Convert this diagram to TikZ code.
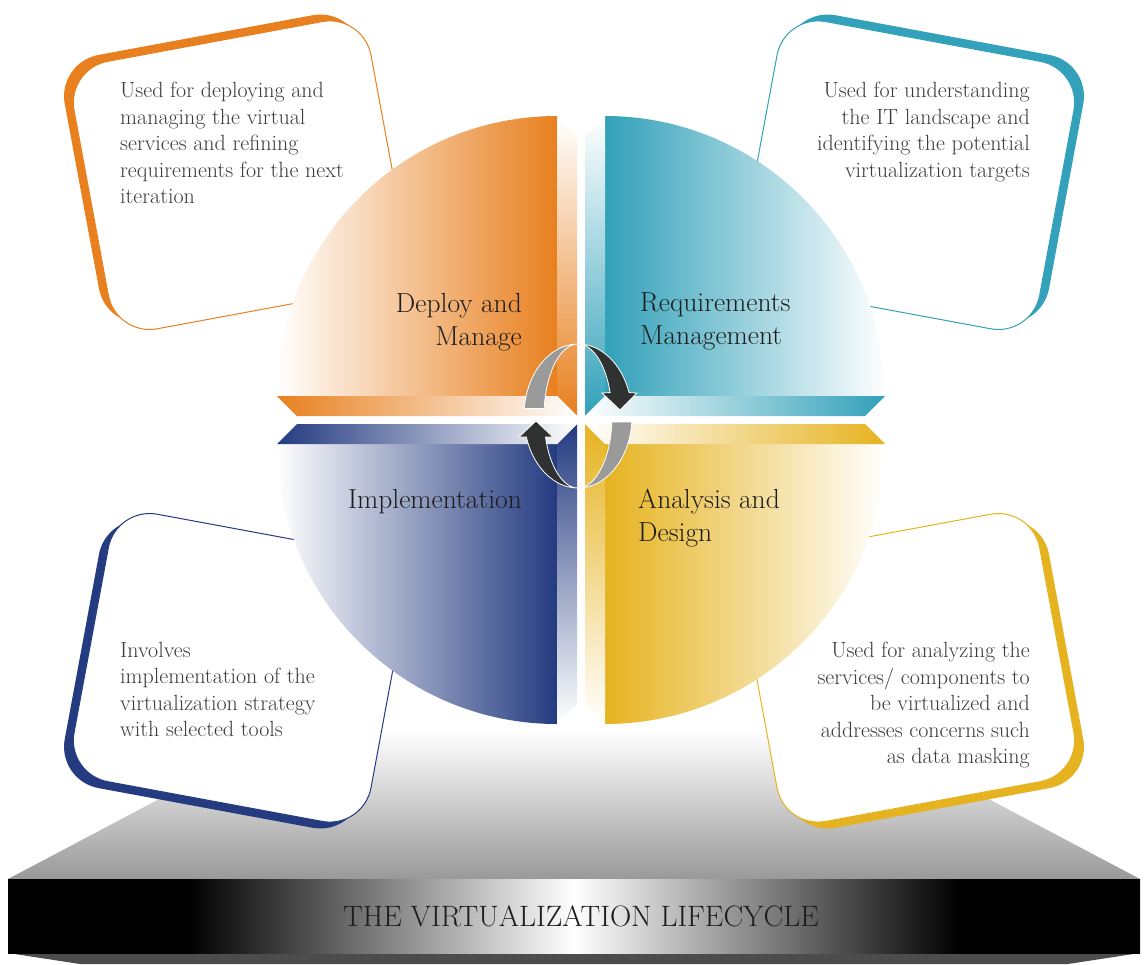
\documentclass[tikz,border=0pt]{standalone}
\usepackage{tikz}
\tikzset{>=latex}

\definecolor{deployorange}{HTML}{E8801F}
\definecolor{reqteal}{HTML}{32A1B9}
\definecolor{implblue}{HTML}{243B80}
\definecolor{designgold}{HTML}{E6B320}
\definecolor{ringgray}{HTML}{9A9A9A}
\definecolor{ringdark}{HTML}{303231}
\definecolor{cardtext}{HTML}{3C3C3C}
\definecolor{labelblack}{HTML}{1D1D1B}

\pgfdeclarehorizontalshading{bandshade}{100bp}{color(0bp)=(black); color(25bp)=(black);
  color(33bp)=(black); color(50bp)=(white); color(67bp)=(black); color(75bp)=(black);
  color(100bp)=(black)}

\tikzset{
  card text/.style={inner sep=0pt, text=cardtext, font=\fontsize{22}{26.5}\selectfont},
  phase label/.style={inner sep=0pt, text=labelblack, font=\fontsize{27.5}{33}\selectfont},
  title text/.style={inner sep=0pt, text=labelblack, font=\fontsize{29.5}{29.5}\selectfont},
  card line/.style={line width=1pt},
  ring edge/.style={draw=white, line width=0.8pt},
}

\begin{document}
\begin{tikzpicture}[x=1pt, y=-1pt]
  \useasboundingbox (0,0) rectangle (1148,964);

  % START: Platform --------------------------------
  \shade[top color=white, bottom color=black!40] (288,731) -- (860,731) -- (1140,879) -- (8,879) -- cycle;
  \shade[left color=black!70, middle color=white, right color=black!70] (8,953) -- (1140,953) -- (1068,964) -- (80,964) -- cycle;
  \shade[shading=bandshade] (8,879) rectangle (1140,953);
  \coordinate (band_c) at (581,916);
  \node[title text] (title) at (band_c) {THE VIRTUALIZATION LIFECYCLE};
  % END: Platform ----------------------------------

  % START: Cards -----------------------------------
  % Deploy card
  \begin{scope}[shift={(235,172)}, rotate=10.5]
    \fill[deployorange, rounded corners=42pt] (-155,-140) rectangle (147,132);
    \filldraw[fill=white, draw=deployorange, card line, rounded corners=42pt] (-147,-132) rectangle (155,140);
  \end{scope}
  % Requirements card
  \begin{scope}[shift={(913,172)}, rotate=-10.5]
    \fill[reqteal, rounded corners=42pt] (-147,-140) rectangle (155,132);
    \filldraw[fill=white, draw=reqteal, card line, rounded corners=42pt] (-155,-132) rectangle (147,140);
  \end{scope}
  % Implementation card
  \begin{scope}[shift={(235,671)}, rotate=-10.5]
    \fill[implblue, rounded corners=42pt] (-155,-132) rectangle (147,140);
    \filldraw[fill=white, draw=implblue, card line, rounded corners=42pt] (-147,-140) rectangle (155,132);
  \end{scope}
  % Design card
  \begin{scope}[shift={(913,671)}, rotate=10.5]
    \fill[designgold, rounded corners=42pt] (-147,-132) rectangle (155,140);
    \filldraw[fill=white, draw=designgold, card line, rounded corners=42pt] (-155,-140) rectangle (147,132);
  \end{scope}

  \node[card text, anchor=north west, align=left] (deploy_note) at (120,82)
    {Used for deploying and\\managing the virtual\\services and refining\\requirements for the next\\iteration};
  \node[card text, anchor=north east, align=right] (req_note) at (1030,82)
    {Used for understanding\\the IT landscape and\\identifying the potential\\virtualization targets};
  \node[card text, anchor=north west, align=left] (impl_note) at (120,642)
    {Involves\\implementation of the\\virtualization strategy\\with selected tools};
  \node[card text, anchor=north east, align=right] (design_note) at (1030,642)
    {Used for analyzing the\\services/ components to\\be virtualized and\\addresses concerns such\\as data masking};
  % END: Cards -------------------------------------

  % START: Quadrants -------------------------------
  % Deploy (top left)
  \shade[left color=white, right color=deployorange] (557,396) -- (277,396) arc[start angle=180, end angle=270, radius=280] -- cycle;
  \shade[top color=white, bottom color=deployorange] (557,116) -- (577,136) -- (577,416) -- (557,396) -- cycle;
  \shade[left color=deployorange, right color=white] (277,396) -- (557,396) -- (577,416) -- (297,416) -- cycle;
  % Requirements (top right)
  \shade[left color=reqteal, right color=white] (605,396) -- (605,116) arc[start angle=270, end angle=360, radius=280] -- cycle;
  \shade[top color=white, bottom color=reqteal] (605,116) -- (585,136) -- (585,416) -- (605,396) -- cycle;
  \shade[left color=white, right color=reqteal] (605,396) -- (885,396) -- (865,416) -- (585,416) -- cycle;
  % Implementation (bottom left)
  \shade[left color=white, right color=implblue] (557,444) -- (557,724) arc[start angle=90, end angle=180, radius=280] -- cycle;
  \shade[top color=implblue, bottom color=white] (557,444) -- (577,424) -- (577,704) -- (557,724) -- cycle;
  \shade[left color=implblue, right color=white] (297,424) -- (577,424) -- (557,444) -- (277,444) -- cycle;
  % Design (bottom right)
  \shade[left color=designgold, right color=white] (605,444) -- (885,444) arc[start angle=0, end angle=90, radius=280] -- cycle;
  \shade[top color=designgold, bottom color=white] (605,444) -- (585,424) -- (585,704) -- (605,724) -- cycle;
  \shade[left color=white, right color=designgold] (585,424) -- (865,424) -- (885,444) -- (605,444) -- cycle;

  \node[phase label, anchor=north east, align=right] (deploy) at (522,293) {Deploy and\\Manage};
  \node[phase label, anchor=north west, align=left] (req) at (640,293) {Requirements\\Management};
  \node[phase label, anchor=north east, align=right] (impl) at (522,489) {Implementation};
  \node[phase label, anchor=north west, align=left] (design) at (638,489) {Analysis and\\Design};
  % END: Quadrants ---------------------------------

  % START: Ring ------------------------------------
  \coordinate (ring) at (578,416);
  \begin{scope}[shift={(ring)}]
    % upper half
    \filldraw[fill=ringgray, ring edge] (186:54 and 72)
      arc[start angle=186, end angle=270, x radius=54, y radius=72]
      arc[start angle=270, end angle=186, x radius=34, y radius=72] -- cycle;
    \filldraw[fill=ringdark, ring edge] (270:54 and 72)
      arc[start angle=270, end angle=341, x radius=54, y radius=72]
      -- (59,-23) -- (42,-6) -- (24,-23) -- (341:34 and 72)
      arc[start angle=341, end angle=270, x radius=34, y radius=72] -- cycle;
    % lower half
    \filldraw[fill=ringgray, ring edge] (4.8:54 and 72)
      arc[start angle=4.8, end angle=90, x radius=54, y radius=72]
      arc[start angle=90, end angle=4.8, x radius=34, y radius=72] -- cycle;
    \filldraw[fill=ringdark, ring edge] (90:54 and 72)
      arc[start angle=90, end angle=163, x radius=54, y radius=72]
      -- (-59,21) -- (-42,5) -- (-25,21) -- (163:34 and 72)
      arc[start angle=163, end angle=90, x radius=34, y radius=72] -- cycle;
  \end{scope}
  % END: Ring --------------------------------------
\end{tikzpicture}
\end{document}
